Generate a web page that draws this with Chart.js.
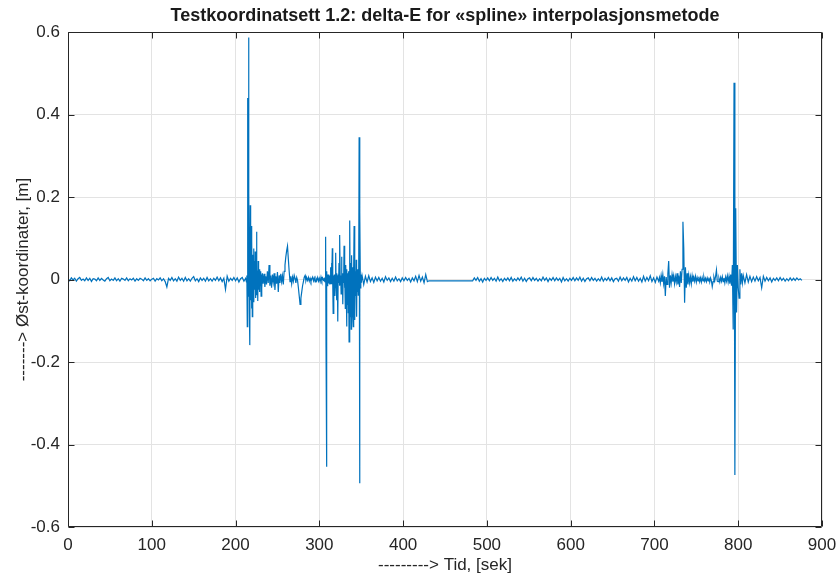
<!DOCTYPE html>
<html><head><meta charset="utf-8">
<script src="https://cdn.jsdelivr.net/npm/chart.js@4.4.0/dist/chart.umd.min.js"></script>
<style>html,body{margin:0;padding:0;background:#fff;overflow:hidden}</style>
</head><body>
<canvas id="c" width="839" height="576"></canvas>
<script>
const titleText = 'Testkoordinatsett 1.2: delta-E for «spline» interpolasjonsmetode';
const xLabel = '---------> Tid, [sek]';
const yLabel = '-------> Øst-koordinater, [m]';
const xTicks = [0, 100, 200, 300, 400, 500, 600, 700, 800, 900];
const yTicks = [-0.6, -0.4, -0.2, 0, 0.2, 0.4, 0.6];

// delta-E values in millimetres, sampled from start time t0 with step dt (seconds)
const segA_t0 = 0, segA_dt = 2;
const segA = [2,-3,4,-1,3,-4,2,5,-2,1,
 -3,4,-2,3,-5,2,1,-3,4,-2,
 3,-1,-4,2,5,-3,1,-2,4,-3,
 2,-4,3,1,-2,4,-3,2,-1,3,
 -4,2,-2,3,1,-3,4,-2,2,-3,
 1,3,-4,2,-1,4,-3,2,-5,-18,
 3,-2,5,-3,2,-4,6,-2,3,-4,
 5,-3,2,-4,3,7,-3,2,-5,4,
 -2,3,-4,5,-3,2,-4,3,-2,6,
 -3,4,-5,3,-24,8,-4,3,-2,5,
 -3,4,-6,2,5,-4,3];

const segB1_t0 = 213, segB1_dt = 0.5;
const segB1 = [-6,10,-114,440,-40,587,210,-80,-159,180,
 -50,130,-70,95,-90,60,-35,75,-55,45,
 -25,68,-45,30,116,-38,22,-52,45,-25,
 18,-30,25,-15,20,-40,12,-22,15];

const segB2_t0 = 233, segB2_dt = 1;
const segB2 = [-10,14,-18,8,-12,20,-8,35,-15,10,
 -20,12,-6,15,-25,8,-10,18,-30,10,
 -8,14,-5,9,-12,20,35,55,70,81,
 50,20,-5,8,-10,6,-4,10,3,-8,
 5,-2,-20,-40,-60,-45,-30,-15,-5,6,
 10,-3,4,-2,5,-4,3,-5,2,6,
 -3,4,-6,3,-2,5,-4,3,-5,6,
 -3,4,-2];

const segC_t0 = 305.5, segC_dt = 0.5;
const segC = [3,-4,5,-6,104,-163,-454,20,-15,12,
 -8,12,-6,10,-12,8,30,-10,40,-5,
 76,-8,-82,10,-6,12,-40,8,65,-10,
 15,-50,10,-102,12,-8,40,-15,108,-12,
 10,-35,55,-10,15,-60,12,-8,82,-20,
 15,-70,35,-12,-114,25,-60,15,-80,20,
 -151,-60,143,-90,40,-120,59,-50,30,-80,
 -114,30,130,-90,-98,20,-40,48,-90,25,
 -30,15,-38,20,345,-494,164,-20,12,-8];

const segD_t0 = 351, segD_dt = 2;
const segD = [10,-12,8,-6,9,-5,4,-7,6,-3,
 5,-4,3,-6,7,-2,4,-5,3,-4,
 6,-3,2,-5,4,-3,5,-2,3,-6,
 4,-3,8,-5,10,-4,6,-8,12,-5,
 -3];

const segE_t0 = 483, segE_dt = 2;
const segE = [-3,4,-2,5,-4,2,-6,3,-2,4,
 -3,5,-2,3,-4,6,-3,2,-5,3,
 -2,4,-3,5,-4,2,-3,4,-2,6,
 -4,3,-5,2,4,-3,5,-2,3,-4,
 2,-3,6,-2,4,-5,3,-2,5,-3,
 4,-2,3,-6,5,-3,2,-4,3,-2,
 5,-3,4,-2,6,-4,3,-5,2,4,
 -3,5,-2,3,-4,2,-3,6,-4,3,
 -2,5,-3,4,-5,2,3,-4,6,-3,
 4,-2,5,-6,3,-4,7,-3,5,-4,
 3,-6,8,-4,5,-3,9,-5,4,-7,
 6,-4];

const segF_t0 = 706, segF_dt = 1;
const segF = [5,-8,10,-6,12,-10,8,-40,6,-12,
 14,45,-20,10,-8,12,-5,9,-10,7,
 -6,15,-12,10,-18,20,-8,25,140,76,
 -56,30,-20,15,-12,10,-8,7,-10,9,
 -5,6,-4,8,-6,5,-3,7,-5,4,
 -6,5,-3,6,-4,3,-5,4,-3,5,
 -6,4,-3,-17,-5,6,-3,8,23,-4,
 -5,3,-6,5,-4,7,-5,4,-8,6,
 -4,9,-6,8,-10,12,-15,35,-121,477,
 -474,173,-80,35,-20,-45,25,-12,15,-8];

const segG_t0 = 806, segG_dt = 2;
const segG = [10,-8,12,-6,8,-5,6,-4,7,-3,
 5,-20,8,-4,5,-3,4,-6,3,-2,
 4,-3,5,-2,3,-4,2,-3,4,-2,
 3,-2,4,-1,2,-2];

function toPoints(t0, dt, mm) {
  return mm.map((v, i) => ({ x: t0 + i * dt, y: v / 1000 }));
}
const points = [].concat(
  toPoints(segA_t0, segA_dt, segA),
  toPoints(segB1_t0, segB1_dt, segB1),
  toPoints(segB2_t0, segB2_dt, segB2),
  toPoints(segC_t0, segC_dt, segC),
  toPoints(segD_t0, segD_dt, segD),
  toPoints(segE_t0, segE_dt, segE),
  toPoints(segF_t0, segF_dt, segF),
  toPoints(segG_t0, segG_dt, segG)
);

const FONT = "'Liberation Sans', Arial, sans-serif";
const TXT = '#262626';

const boxPlugin = {
  id: 'box',
  afterDatasetsDraw(chart) {
    const { ctx, chartArea: a, scales: { x, y } } = chart;
    ctx.save();
    ctx.strokeStyle = '#262626';
    ctx.lineWidth = 1;
    const L = Math.round(a.left) + 0.5, R = Math.round(a.right) - 0.5;
    const T = Math.round(a.top) + 0.5, B = Math.round(a.bottom) - 0.5;
    ctx.beginPath();
    ctx.rect(L, T, R - L, B - T);
    const tl = 6;
    xTicks.forEach(v => {
      const px = Math.round(x.getPixelForValue(v)) + 0.5;
      ctx.moveTo(px, B); ctx.lineTo(px, B - tl);
      ctx.moveTo(px, T); ctx.lineTo(px, T + tl);
    });
    yTicks.forEach(v => {
      const py = Math.round(y.getPixelForValue(v)) + 0.5;
      ctx.moveTo(L, py); ctx.lineTo(L + tl, py);
      ctx.moveTo(R, py); ctx.lineTo(R - tl, py);
    });
    ctx.stroke();
    ctx.restore();
  }
};

new Chart(document.getElementById('c'), {
  type: 'line',
  data: { datasets: [{ data: points, borderColor: '#0072BD', borderWidth: 1.2, pointRadius: 0, tension: 0, fill: false }] },
  options: {
    responsive: false, animation: false, events: [],
    layout: { padding: { left: 0, right: 17, top: 0, bottom: 0 } },
    plugins: {
      legend: { display: false }, tooltip: { enabled: false },
      title: { display: true, fullSize: false, text: titleText, color: '#1a1a1a',
        font: { family: FONT, size: 18, weight: 'bold', lineHeight: 1.2 }, padding: { top: 5.5, bottom: 5 } }
    },
    scales: {
      x: {
        type: 'linear', min: 0, max: 900,
        afterBuildTicks: s => { s.ticks = xTicks.map(v => ({ value: v })); },
        afterFit: s => { s.height = 49; s.paddingLeft = 0; s.paddingRight = 0; },
        ticks: { color: TXT, font: { family: FONT, size: 17 }, padding: 8, maxRotation: 0, autoSkip: false },
        grid: { color: '#e3e3e3', drawTicks: false },
        border: { display: false },
        title: { display: true, text: xLabel, color: TXT, font: { family: FONT, size: 17, lineHeight: 1.2 }, padding: { top: 0, bottom: 0 } }
      },
      y: {
        type: 'linear', min: -0.6, max: 0.6,
        afterBuildTicks: s => { s.ticks = yTicks.map(v => ({ value: v })); },
        afterFit: s => { s.width = 68; },
        ticks: { color: TXT, font: { family: FONT, size: 17 }, padding: 8,
          callback: v => (Math.abs(v) < 1e-9 ? '0' : v.toFixed(1)) },
        grid: { color: '#e3e3e3', drawTicks: false },
        border: { display: false },
        title: { display: true, text: yLabel, color: TXT, font: { family: FONT, size: 17, lineHeight: 1.2 }, padding: { top: 13, bottom: 0 } }
      }
    }
  },
  plugins: [boxPlugin]
});
</script>
</body></html>
